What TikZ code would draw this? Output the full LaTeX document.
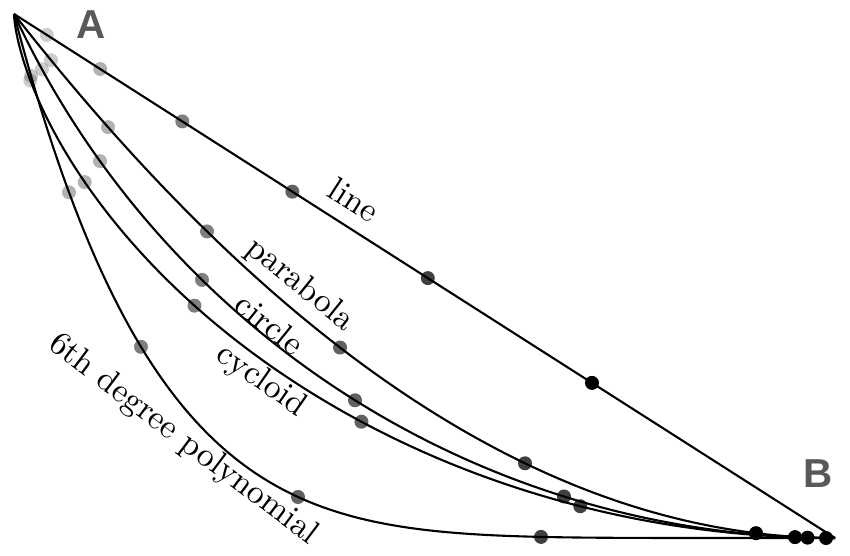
\documentclass[tikz,border=0pt]{standalone}
\usepackage{fontspec}
\setsansfont{Liberation Sans}
\usetikzlibrary{calc}
\tikzset{
	curve/.style={line width=0.6pt, smooth, samples=150},
	mass/.style={fill=black, opacity=#1},
	curvelabel/.style={font=\fontsize{9.6}{11}\selectfont, inner sep=1pt},
	endlabel/.style={font=\sffamily\bfseries\fontsize{11.5}{13}\selectfont, text=black!65},
	declare function={
			par(\x)=0.14+5.24*(1-(1-(\x-0.14)/8.21)^2);
			circ(\x)=-3.672+sqrt(81.939-(\x-8.35)^2);
			poly(\x)=0.14+5.24*(1-(1-(\x-0.14)/8.21)^6);
			cycx(\t)=0.14+2.613*(rad(\t)-sin(\t));
			cycy(\t)=0.14+2.62*(1-cos(\t));
		}
}
\begin{document}
\begin{tikzpicture}[x=1cm, y=-1cm]
		\useasboundingbox (0,0) rectangle (8.5,5.55);
		\coordinate (A) at (0.14,0.14);
		\coordinate (B) at (8.35,5.38);

		% end points
		\node[endlabel] (labA) at (0.91,0.25) {A};
		\node[endlabel] (labB) at (8.18,4.74) {B};

		% line
		\draw[line width=0.6pt] (A) -- (B);
		\node[curvelabel, rotate=-32.5] (lline) at (3.54,2.00) {line};

		% parabola y = 1-(1-x)^2
		\draw[curve] plot[domain=0.14:8.35] (\x,{par(\x)});
		\node[curvelabel, rotate=-39] (lpar) at (3.00,2.85) {parabola};

		% circle through A, tangent at B
		\draw[curve] plot[domain=0.14:8.35] (\x,{circ(\x)});
		\node[curvelabel, rotate=-39] (lcirc) at (2.70,3.24) {circle};

		% cycloid
		\draw[curve] plot[domain=0:180] ({cycx(\x)},{cycy(\x)});
		\node[curvelabel, rotate=-35] (lcyc) at (2.61,3.81) {cycloid};

		% 6th degree polynomial y = 1-(1-x)^6
		\draw[curve] plot[domain=0.14:8.35] (\x,{poly(\x)});
		\node[curvelabel, rotate=-37] (lpoly) at (1.83,4.40) {6th degree polynomial};

		% masses at equal time steps
		\foreach \s/\o in {0.040/0.2, 0.105/0.3, 0.205/0.5, 0.339/0.62, 0.504/0.75, 0.704/1}
		\fill[mass=\o] ($(A)!\s!(B)$) circle (0.07);
		\foreach \u/\o in {0.51/0.2, 1.08/0.3, 2.07/0.5, 3.40/0.62, 5.25/0.75, 7.56/1}
		\fill[mass=\o] (\u,{par(\u)}) circle (0.07);
		\foreach \u/\o in {0.42/0.2, 1.00/0.3, 2.02/0.5, 3.55/0.62, 5.64/0.75, 7.95/1}
		\fill[mass=\o] (\u,{circ(\u)}) circle (0.07);
		\foreach \t/\o in {41.7/0.2, 69/0.3, 96.5/0.5, 123.8/0.62, 151.5/0.75, 177/1}
		\fill[mass=\o] ({cycx(\t)},{cycy(\t)}) circle (0.07);
		\foreach \u/\o in {0.31/0.2, 0.69/0.3, 1.41/0.5, 2.98/0.62, 5.41/0.75, 8.26/1}
		\fill[mass=\o] (\u,{poly(\u)}) circle (0.07);
	\end{tikzpicture}
\end{document}
